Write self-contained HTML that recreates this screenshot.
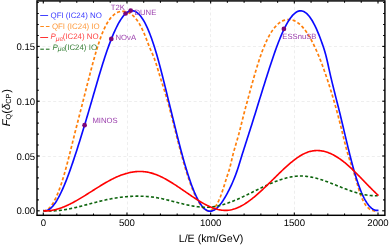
<!DOCTYPE html>
<html><head><meta charset="utf-8"><style>
html,body{margin:0;padding:0;background:#fff;}
body{width:389px;height:245px;position:relative;overflow:hidden;}
svg{position:absolute;left:0;top:0;}
text{font-family:"Liberation Sans",sans-serif;text-rendering:geometricPrecision;}
</style></head><body>
<svg width="389" height="245" viewBox="0 0 389 245">
<g stroke="#eeeeee" stroke-width="1" stroke-dasharray="3,2.4"><line x1="127.5" y1="215.3" x2="127.5" y2="0.9"/><line x1="210.5" y1="215.3" x2="210.5" y2="0.9"/><line x1="294.5" y1="215.3" x2="294.5" y2="0.9"/><line x1="37.0" y1="46.5" x2="384.9" y2="46.5"/><line x1="37.0" y1="101.5" x2="384.9" y2="101.5"/><line x1="37.0" y1="156.5" x2="384.9" y2="156.5"/></g>
<path d="M43.30,210.79 L44.14,210.79 L44.97,210.67 L45.81,210.42 L46.64,210.04 L47.48,209.53 L48.32,208.91 L49.15,208.15 L49.99,207.28 L50.82,206.28 L51.66,205.17 L52.49,203.93 L53.33,202.58 L54.17,201.10 L55.00,199.51 L55.84,197.80 L56.67,195.98 L57.51,194.04 L58.35,191.99 L59.18,189.83 L60.02,187.55 L60.85,185.17 L61.69,182.67 L62.52,180.06 L63.36,177.35 L64.20,174.53 L65.03,171.60 L65.87,168.59 L66.70,165.49 L67.54,162.31 L68.38,159.08 L69.21,155.80 L70.05,152.48 L70.88,149.12 L71.72,145.76 L72.55,142.38 L73.39,139.01 L74.23,135.66 L75.06,132.32 L75.90,129.01 L76.73,125.72 L77.57,122.45 L78.41,119.18 L79.24,115.93 L80.08,112.68 L80.91,109.43 L81.75,106.18 L82.58,102.93 L83.42,99.67 L84.26,96.40 L85.09,93.12 L85.93,89.82 L86.76,86.53 L87.60,83.25 L88.44,79.97 L89.27,76.72 L90.11,73.48 L90.94,70.29 L91.78,67.12 L92.61,64.01 L93.45,60.94 L94.29,57.93 L95.12,54.99 L95.96,52.11 L96.79,49.31 L97.63,46.60 L98.47,43.98 L99.30,41.45 L100.14,39.02 L100.97,36.70 L101.81,34.50 L102.64,32.42 L103.48,30.46 L104.32,28.61 L105.15,26.87 L105.99,25.24 L106.82,23.71 L107.66,22.29 L108.50,20.97 L109.33,19.75 L110.17,18.62 L111.00,17.59 L111.84,16.65 L112.67,15.79 L113.51,15.02 L114.35,14.33 L115.18,13.72 L116.02,13.18 L116.85,12.72 L117.69,12.33 L118.53,12.01 L119.36,11.75 L120.20,11.56 L121.03,11.42 L121.87,11.35 L122.70,11.33 L123.54,11.36 L124.38,11.44 L125.21,11.56 L126.05,11.74 L126.88,11.98 L127.72,12.27 L128.56,12.62 L129.39,13.03 L130.23,13.51 L131.06,14.06 L131.90,14.68 L132.73,15.36 L133.57,16.13 L134.41,16.97 L135.24,17.90 L136.08,18.91 L136.91,20.00 L137.75,21.19 L138.59,22.47 L139.42,23.84 L140.26,25.31 L141.09,26.87 L141.93,28.55 L142.76,30.32 L143.60,32.21 L144.44,34.20 L145.27,36.27 L146.11,38.40 L146.94,40.57 L147.78,42.73 L148.62,44.88 L149.45,46.97 L150.29,48.99 L151.12,50.92 L151.96,52.80 L152.79,54.71 L153.63,56.71 L154.47,58.88 L155.30,61.25 L156.14,63.79 L156.97,66.45 L157.81,69.19 L158.65,71.97 L159.48,74.74 L160.32,77.46 L161.15,80.13 L161.99,82.76 L162.83,85.39 L163.66,88.03 L164.50,90.70 L165.33,93.43 L166.17,96.22 L167.00,99.11 L167.84,102.08 L168.68,105.13 L169.51,108.25 L170.35,111.42 L171.18,114.64 L172.02,117.90 L172.86,121.19 L173.69,124.49 L174.53,127.81 L175.36,131.13 L176.20,134.43 L177.03,137.72 L177.87,140.99 L178.71,144.22 L179.54,147.42 L180.38,150.58 L181.21,153.69 L182.05,156.76 L182.89,159.77 L183.72,162.73 L184.56,165.62 L185.39,168.44 L186.23,171.19 L187.06,173.86 L187.90,176.45 L188.74,178.96 L189.57,181.38 L190.41,183.71 L191.24,185.96 L192.08,188.12 L192.92,190.18 L193.75,192.16 L194.59,194.05 L195.42,195.85 L196.26,197.55 L197.09,199.16 L197.93,200.68 L198.77,202.10 L199.60,203.43 L200.44,204.65 L201.27,205.78 L202.11,206.80 L202.95,207.72 L203.78,208.52 L204.62,209.21 L205.45,209.79 L206.29,210.24 L207.12,210.57 L207.96,210.78 L208.80,210.85 L209.63,210.79 L210.47,210.60 L211.30,210.27 L212.14,209.79 L212.98,209.17 L213.81,208.41 L214.65,207.49 L215.48,206.41 L216.32,205.18 L217.15,203.79 L217.99,202.23 L218.83,200.51 L219.66,198.61 L220.50,196.55 L221.33,194.30 L222.17,191.88 L223.01,189.32 L223.84,186.67 L224.68,183.97 L225.51,181.28 L226.35,178.64 L227.18,176.10 L228.02,173.66 L228.86,171.12 L229.69,168.27 L230.53,164.97 L231.36,161.40 L232.20,157.80 L233.04,154.41 L233.87,151.26 L234.71,148.29 L235.54,145.43 L236.38,142.62 L237.21,139.80 L238.05,136.91 L238.89,133.87 L239.72,130.69 L240.56,127.39 L241.39,124.03 L242.23,120.65 L243.07,117.28 L243.90,113.98 L244.74,110.76 L245.57,107.60 L246.41,104.50 L247.24,101.43 L248.08,98.38 L248.92,95.34 L249.75,92.29 L250.59,89.26 L251.42,86.23 L252.26,83.23 L253.10,80.25 L253.93,77.31 L254.77,74.40 L255.60,71.54 L256.44,68.73 L257.27,65.98 L258.11,63.30 L258.95,60.69 L259.78,58.15 L260.62,55.70 L261.45,53.34 L262.29,51.07 L263.13,48.90 L263.96,46.81 L264.80,44.82 L265.63,42.91 L266.47,41.08 L267.31,39.35 L268.14,37.69 L268.98,36.12 L269.81,34.63 L270.65,33.22 L271.48,31.88 L272.32,30.63 L273.16,29.44 L273.99,28.34 L274.83,27.30 L275.66,26.34 L276.50,25.44 L277.34,24.62 L278.17,23.86 L279.01,23.17 L279.84,22.54 L280.68,21.97 L281.51,21.47 L282.35,21.03 L283.19,20.64 L284.02,20.32 L284.86,20.05 L285.69,19.83 L286.53,19.67 L287.37,19.56 L288.20,19.51 L289.04,19.51 L289.87,19.56 L290.71,19.66 L291.54,19.82 L292.38,20.03 L293.22,20.30 L294.05,20.62 L294.89,21.00 L295.72,21.43 L296.56,21.92 L297.40,22.46 L298.23,23.06 L299.07,23.72 L299.90,24.43 L300.74,25.20 L301.57,26.03 L302.41,26.92 L303.25,27.86 L304.08,28.87 L304.92,29.93 L305.75,31.05 L306.59,32.23 L307.43,33.47 L308.26,34.77 L309.10,36.13 L309.93,37.55 L310.77,39.03 L311.60,40.57 L312.44,42.16 L313.28,43.81 L314.11,45.52 L314.95,47.29 L315.78,49.11 L316.62,50.98 L317.46,52.91 L318.29,54.89 L319.13,56.92 L319.96,59.00 L320.80,61.14 L321.63,63.32 L322.47,65.56 L323.31,67.84 L324.14,70.17 L324.98,72.55 L325.81,74.98 L326.65,77.45 L327.49,79.97 L328.32,82.53 L329.16,85.13 L329.99,87.78 L330.83,90.47 L331.66,93.20 L332.50,95.98 L333.34,98.81 L334.17,101.68 L335.01,104.60 L335.84,107.57 L336.68,110.60 L337.52,113.68 L338.35,116.82 L339.19,120.01 L340.02,123.27 L340.86,126.59 L341.69,129.97 L342.53,133.41 L343.37,136.86 L344.20,140.29 L345.04,143.65 L345.87,146.91 L346.71,150.03 L347.55,152.97 L348.38,155.78 L349.22,158.46 L350.05,161.05 L350.89,163.59 L351.72,166.10 L352.56,168.60 L353.40,171.13 L354.23,173.72 L355.07,176.39 L355.90,179.18 L356.74,182.10 L357.58,185.11 L358.41,188.06 L359.25,190.83 L360.08,193.36 L360.92,195.67 L361.75,197.77 L362.59,199.67 L363.43,201.38 L364.26,202.90 L365.10,204.25 L365.93,205.45 L366.77,206.50 L367.61,207.40 L368.44,208.18 L369.28,208.84 L370.11,209.40 L370.95,209.85 L371.78,210.22 L372.62,210.52 L373.46,210.75 L374.29,210.92 L375.13,211.06 L375.96,211.15 L376.80,211.23" fill="none" stroke="#ff7f0a" stroke-width="1.7" stroke-dasharray="3.2,2.2"/>
<path d="M43.30,210.44 L44.14,210.63 L44.98,210.70 L45.82,210.66 L46.66,210.50 L47.50,210.23 L48.34,209.85 L49.18,209.37 L50.02,208.78 L50.86,208.08 L51.70,207.29 L52.54,206.40 L53.38,205.42 L54.22,204.35 L55.06,203.18 L55.90,201.93 L56.74,200.60 L57.58,199.18 L58.42,197.69 L59.26,196.11 L60.10,194.47 L60.94,192.75 L61.78,190.97 L62.62,189.11 L63.46,187.20 L64.30,185.22 L65.14,183.18 L65.98,181.09 L66.82,178.94 L67.66,176.74 L68.50,174.49 L69.34,172.20 L70.18,169.86 L71.02,167.48 L71.86,165.07 L72.70,162.61 L73.54,160.12 L74.38,157.61 L75.22,155.06 L76.06,152.48 L76.90,149.88 L77.74,147.26 L78.58,144.61 L79.42,141.94 L80.26,139.25 L81.10,136.53 L81.94,133.80 L82.78,131.05 L83.62,128.28 L84.46,125.49 L85.31,122.69 L86.15,119.88 L86.99,117.05 L87.83,114.21 L88.67,111.36 L89.51,108.50 L90.35,105.62 L91.19,102.75 L92.03,99.86 L92.87,96.97 L93.71,94.08 L94.55,91.18 L95.39,88.29 L96.23,85.40 L97.07,82.53 L97.91,79.66 L98.75,76.82 L99.59,74.00 L100.43,71.21 L101.27,68.45 L102.11,65.72 L102.95,63.04 L103.79,60.39 L104.63,57.79 L105.47,55.25 L106.31,52.75 L107.15,50.31 L107.99,47.93 L108.83,45.61 L109.67,43.34 L110.51,41.14 L111.35,38.99 L112.19,36.91 L113.03,34.90 L113.87,32.95 L114.71,31.06 L115.55,29.24 L116.39,27.50 L117.23,25.82 L118.07,24.21 L118.91,22.69 L119.75,21.24 L120.59,19.87 L121.43,18.59 L122.27,17.40 L123.11,16.30 L123.95,15.29 L124.79,14.37 L125.63,13.56 L126.47,12.85 L127.31,12.24 L128.15,11.73 L128.99,11.33 L129.83,11.02 L130.67,10.82 L131.51,10.72 L132.35,10.72 L133.19,10.83 L134.03,11.03 L134.87,11.34 L135.71,11.75 L136.55,12.26 L137.39,12.87 L138.23,13.58 L139.07,14.39 L139.91,15.31 L140.75,16.33 L141.59,17.45 L142.43,18.67 L143.27,19.99 L144.11,21.41 L144.95,22.94 L145.79,24.56 L146.63,26.29 L147.47,28.12 L148.31,30.05 L149.15,32.08 L149.99,34.20 L150.83,36.43 L151.67,38.75 L152.51,41.16 L153.35,43.67 L154.19,46.26 L155.03,48.94 L155.87,51.71 L156.71,54.57 L157.55,57.50 L158.39,60.52 L159.23,63.61 L160.07,66.76 L160.91,69.97 L161.75,73.23 L162.59,76.54 L163.43,79.88 L164.27,83.26 L165.11,86.65 L165.95,90.07 L166.79,93.49 L167.63,96.91 L168.47,100.33 L169.32,103.74 L170.16,107.15 L171.00,110.56 L171.84,113.97 L172.68,117.39 L173.52,120.80 L174.36,124.21 L175.20,127.61 L176.04,130.99 L176.88,134.35 L177.72,137.69 L178.56,141.00 L179.40,144.27 L180.24,147.50 L181.08,150.68 L181.92,153.81 L182.76,156.89 L183.60,159.91 L184.44,162.86 L185.28,165.75 L186.12,168.57 L186.96,171.32 L187.80,174.00 L188.64,176.60 L189.48,179.12 L190.32,181.57 L191.16,183.93 L192.00,186.21 L192.84,188.40 L193.68,190.50 L194.52,192.51 L195.36,194.43 L196.20,196.25 L197.04,197.98 L197.88,199.61 L198.72,201.14 L199.56,202.56 L200.40,203.89 L201.24,205.11 L202.08,206.22 L202.92,207.22 L203.76,208.11 L204.60,208.89 L205.44,209.55 L206.28,210.10 L207.12,210.53 L207.96,210.85 L208.80,211.07 L209.64,211.17 L210.48,211.18 L211.32,211.08 L212.16,210.88 L213.00,210.59 L213.84,210.20 L214.68,209.73 L215.52,209.16 L216.36,208.51 L217.20,207.77 L218.04,206.95 L218.88,206.05 L219.72,205.08 L220.56,204.03 L221.40,202.92 L222.24,201.73 L223.08,200.48 L223.92,199.16 L224.76,197.79 L225.60,196.35 L226.44,194.86 L227.28,193.31 L228.12,191.72 L228.96,190.07 L229.80,188.38 L230.64,186.64 L231.48,184.84 L232.32,182.98 L233.16,181.03 L234.00,179.01 L234.84,176.90 L235.68,174.69 L236.52,172.38 L237.36,169.95 L238.20,167.40 L239.04,164.75 L239.88,162.04 L240.72,159.29 L241.56,156.56 L242.40,153.85 L243.24,151.18 L244.08,148.54 L244.92,145.91 L245.76,143.30 L246.60,140.70 L247.44,138.09 L248.28,135.48 L249.12,132.85 L249.96,130.21 L250.80,127.56 L251.64,124.89 L252.48,122.22 L253.33,119.53 L254.17,116.84 L255.01,114.14 L255.85,111.43 L256.69,108.73 L257.53,106.01 L258.37,103.30 L259.21,100.59 L260.05,97.88 L260.89,95.17 L261.73,92.47 L262.57,89.77 L263.41,87.08 L264.25,84.40 L265.09,81.72 L265.93,79.06 L266.77,76.41 L267.61,73.77 L268.45,71.15 L269.29,68.55 L270.13,65.97 L270.97,63.42 L271.81,60.89 L272.65,58.40 L273.49,55.94 L274.33,53.51 L275.17,51.13 L276.01,48.79 L276.85,46.50 L277.69,44.26 L278.53,42.07 L279.37,39.94 L280.21,37.87 L281.05,35.86 L281.89,33.91 L282.73,32.03 L283.57,30.21 L284.41,28.46 L285.25,26.78 L286.09,25.17 L286.93,23.64 L287.77,22.18 L288.61,20.81 L289.45,19.51 L290.29,18.29 L291.13,17.16 L291.97,16.12 L292.81,15.16 L293.65,14.29 L294.49,13.51 L295.33,12.83 L296.17,12.24 L297.01,11.75 L297.85,11.36 L298.69,11.07 L299.53,10.89 L300.37,10.81 L301.21,10.83 L302.05,10.97 L302.89,11.21 L303.73,11.55 L304.57,12.00 L305.41,12.55 L306.25,13.20 L307.09,13.95 L307.93,14.81 L308.77,15.76 L309.61,16.81 L310.45,17.96 L311.29,19.21 L312.13,20.55 L312.97,21.99 L313.81,23.53 L314.65,25.16 L315.49,26.88 L316.33,28.69 L317.17,30.59 L318.01,32.58 L318.85,34.65 L319.69,36.79 L320.53,39.00 L321.37,41.28 L322.21,43.61 L323.05,46.01 L323.89,48.52 L324.73,51.22 L325.57,54.16 L326.41,57.42 L327.25,61.00 L328.09,64.79 L328.93,68.63 L329.77,72.40 L330.61,76.06 L331.45,79.63 L332.29,83.12 L333.13,86.54 L333.97,89.92 L334.81,93.26 L335.65,96.58 L336.49,99.88 L337.34,103.20 L338.18,106.53 L339.02,109.90 L339.86,113.31 L340.70,116.77 L341.54,120.25 L342.38,123.77 L343.22,127.30 L344.06,130.83 L344.90,134.37 L345.74,137.90 L346.58,141.41 L347.42,144.90 L348.26,148.36 L349.10,151.77 L349.94,155.13 L350.78,158.44 L351.62,161.68 L352.46,164.84 L353.30,167.93 L354.14,170.92 L354.98,173.81 L355.82,176.59 L356.66,179.27 L357.50,181.84 L358.34,184.30 L359.18,186.65 L360.02,188.88 L360.86,191.00 L361.70,193.00 L362.54,194.88 L363.38,196.65 L364.22,198.31 L365.06,199.86 L365.90,201.29 L366.74,202.62 L367.58,203.84 L368.42,204.95 L369.26,205.95 L370.10,206.85 L370.94,207.65 L371.78,208.34 L372.62,208.94 L373.46,209.43 L374.30,209.82 L375.14,210.12 L375.98,210.32 L376.82,210.42 L377.66,210.43 L378.50,210.35" fill="none" stroke="#0a0aff" stroke-width="1.65"/>
<path d="M43.30,210.60 L44.14,210.68 L44.98,210.75 L45.81,210.81 L46.65,210.85 L47.49,210.89 L48.33,210.92 L49.16,210.93 L50.00,210.94 L50.84,210.94 L51.68,210.93 L52.52,210.91 L53.35,210.88 L54.19,210.84 L55.03,210.79 L55.87,210.74 L56.71,210.67 L57.54,210.60 L58.38,210.52 L59.22,210.44 L60.06,210.34 L60.89,210.24 L61.73,210.14 L62.57,210.02 L63.41,209.90 L64.25,209.77 L65.08,209.64 L65.92,209.50 L66.76,209.35 L67.60,209.20 L68.44,209.04 L69.27,208.88 L70.11,208.71 L70.95,208.54 L71.79,208.36 L72.62,208.18 L73.46,208.00 L74.30,207.81 L75.14,207.61 L75.98,207.42 L76.81,207.22 L77.65,207.01 L78.49,206.81 L79.33,206.60 L80.17,206.39 L81.00,206.17 L81.84,205.96 L82.68,205.74 L83.52,205.52 L84.35,205.30 L85.19,205.08 L86.03,204.86 L86.87,204.64 L87.71,204.41 L88.54,204.19 L89.38,203.96 L90.22,203.74 L91.06,203.52 L91.89,203.29 L92.73,203.07 L93.57,202.85 L94.41,202.63 L95.25,202.41 L96.08,202.20 L96.92,201.98 L97.76,201.77 L98.60,201.56 L99.44,201.35 L100.27,201.14 L101.11,200.94 L101.95,200.74 L102.79,200.55 L103.62,200.36 L104.46,200.17 L105.30,199.98 L106.14,199.80 L106.98,199.62 L107.81,199.45 L108.65,199.28 L109.49,199.11 L110.33,198.95 L111.17,198.79 L112.00,198.64 L112.84,198.49 L113.68,198.34 L114.52,198.20 L115.35,198.07 L116.19,197.93 L117.03,197.80 L117.87,197.68 L118.71,197.56 L119.54,197.44 L120.38,197.33 L121.22,197.23 L122.06,197.13 L122.90,197.03 L123.73,196.94 L124.57,196.85 L125.41,196.77 L126.25,196.69 L127.08,196.62 L127.92,196.55 L128.76,196.49 L129.60,196.43 L130.44,196.38 L131.27,196.33 L132.11,196.29 L132.95,196.26 L133.79,196.23 L134.63,196.20 L135.46,196.18 L136.30,196.17 L137.14,196.16 L137.98,196.16 L138.81,196.16 L139.65,196.17 L140.49,196.18 L141.33,196.20 L142.17,196.23 L143.00,196.26 L143.84,196.30 L144.68,196.35 L145.52,196.40 L146.35,196.45 L147.19,196.52 L148.03,196.59 L148.87,196.66 L149.71,196.74 L150.54,196.83 L151.38,196.93 L152.22,197.03 L153.06,197.14 L153.90,197.25 L154.73,197.38 L155.57,197.50 L156.41,197.64 L157.25,197.78 L158.08,197.93 L158.92,198.09 L159.76,198.25 L160.60,198.42 L161.44,198.59 L162.27,198.77 L163.11,198.95 L163.95,199.14 L164.79,199.33 L165.63,199.53 L166.46,199.73 L167.30,199.93 L168.14,200.14 L168.98,200.35 L169.81,200.56 L170.65,200.77 L171.49,200.99 L172.33,201.20 L173.17,201.42 L174.00,201.64 L174.84,201.86 L175.68,202.07 L176.52,202.29 L177.36,202.51 L178.19,202.73 L179.03,202.94 L179.87,203.16 L180.71,203.37 L181.54,203.58 L182.38,203.78 L183.22,203.99 L184.06,204.19 L184.90,204.39 L185.73,204.58 L186.57,204.77 L187.41,204.96 L188.25,205.14 L189.08,205.31 L189.92,205.48 L190.76,205.65 L191.60,205.81 L192.44,205.96 L193.27,206.10 L194.11,206.24 L194.95,206.37 L195.79,206.49 L196.63,206.61 L197.46,206.72 L198.30,206.81 L199.14,206.90 L199.98,206.98 L200.81,207.05 L201.65,207.11 L202.49,207.16 L203.33,207.20 L204.17,207.23 L205.00,207.24 L205.84,207.25 L206.68,207.24 L207.52,207.22 L208.36,207.19 L209.19,207.15 L210.03,207.09 L210.87,207.02 L211.71,206.93 L212.54,206.84 L213.38,206.73 L214.22,206.60 L215.06,206.47 L215.90,206.32 L216.73,206.16 L217.57,205.99 L218.41,205.81 L219.25,205.62 L220.09,205.42 L220.92,205.21 L221.76,204.98 L222.60,204.75 L223.44,204.51 L224.27,204.26 L225.11,203.99 L225.95,203.72 L226.79,203.45 L227.63,203.16 L228.46,202.86 L229.30,202.56 L230.14,202.25 L230.98,201.94 L231.82,201.61 L232.65,201.28 L233.49,200.94 L234.33,200.60 L235.17,200.25 L236.00,199.89 L236.84,199.53 L237.68,199.17 L238.52,198.80 L239.36,198.42 L240.19,198.04 L241.03,197.66 L241.87,197.27 L242.71,196.88 L243.54,196.48 L244.38,196.08 L245.22,195.68 L246.06,195.28 L246.90,194.87 L247.73,194.47 L248.57,194.06 L249.41,193.65 L250.25,193.23 L251.09,192.82 L251.92,192.41 L252.76,191.99 L253.60,191.58 L254.44,191.16 L255.27,190.75 L256.11,190.33 L256.95,189.92 L257.79,189.51 L258.63,189.10 L259.46,188.69 L260.30,188.28 L261.14,187.88 L261.98,187.47 L262.82,187.07 L263.65,186.68 L264.49,186.28 L265.33,185.89 L266.17,185.50 L267.00,185.12 L267.84,184.74 L268.68,184.37 L269.52,184.00 L270.36,183.63 L271.19,183.27 L272.03,182.92 L272.87,182.57 L273.71,182.23 L274.55,181.89 L275.38,181.56 L276.22,181.24 L277.06,180.93 L277.90,180.62 L278.73,180.32 L279.57,180.03 L280.41,179.74 L281.25,179.46 L282.09,179.20 L282.92,178.94 L283.76,178.69 L284.60,178.45 L285.44,178.22 L286.27,178.00 L287.11,177.79 L287.95,177.59 L288.79,177.40 L289.63,177.22 L290.46,177.05 L291.30,176.90 L292.14,176.75 L292.98,176.62 L293.82,176.50 L294.65,176.40 L295.49,176.30 L296.33,176.22 L297.17,176.15 L298.00,176.10 L298.84,176.06 L299.68,176.03 L300.52,176.02 L301.36,176.02 L302.19,176.04 L303.03,176.07 L303.87,176.12 L304.71,176.18 L305.55,176.26 L306.38,176.34 L307.22,176.44 L308.06,176.56 L308.90,176.68 L309.73,176.82 L310.57,176.97 L311.41,177.13 L312.25,177.30 L313.09,177.48 L313.92,177.67 L314.76,177.87 L315.60,178.08 L316.44,178.30 L317.28,178.53 L318.11,178.76 L318.95,179.01 L319.79,179.26 L320.63,179.52 L321.46,179.79 L322.30,180.06 L323.14,180.34 L323.98,180.63 L324.82,180.92 L325.65,181.22 L326.49,181.52 L327.33,181.82 L328.17,182.13 L329.01,182.45 L329.84,182.77 L330.68,183.09 L331.52,183.41 L332.36,183.74 L333.19,184.07 L334.03,184.40 L334.87,184.73 L335.71,185.07 L336.55,185.40 L337.38,185.74 L338.22,186.07 L339.06,186.41 L339.90,186.74 L340.73,187.07 L341.57,187.40 L342.41,187.73 L343.25,188.06 L344.09,188.39 L344.92,188.71 L345.76,189.03 L346.60,189.35 L347.44,189.66 L348.28,189.97 L349.11,190.28 L349.95,190.58 L350.79,190.87 L351.63,191.16 L352.46,191.45 L353.30,191.73 L354.14,192.00 L354.98,192.26 L355.82,192.52 L356.65,192.77 L357.49,193.01 L358.33,193.25 L359.17,193.47 L360.01,193.69 L360.84,193.90 L361.68,194.09 L362.52,194.28 L363.36,194.46 L364.19,194.63 L365.03,194.78 L365.87,194.93 L366.71,195.06 L367.55,195.18 L368.38,195.29 L369.22,195.39 L370.06,195.47 L370.90,195.54 L371.74,195.60 L372.57,195.64 L373.41,195.67 L374.25,195.68 L375.09,195.68 L375.92,195.66 L376.76,195.62 L377.60,195.58" fill="none" stroke="#0d640d" stroke-width="1.6" stroke-dasharray="3,2.2"/>
<path d="M43.30,210.81 L44.14,210.85 L44.98,210.87 L45.82,210.88 L46.66,210.86 L47.50,210.83 L48.34,210.77 L49.18,210.70 L50.02,210.61 L50.86,210.50 L51.70,210.38 L52.54,210.23 L53.38,210.07 L54.22,209.90 L55.06,209.71 L55.90,209.50 L56.74,209.28 L57.58,209.05 L58.42,208.80 L59.26,208.53 L60.10,208.25 L60.94,207.96 L61.78,207.66 L62.62,207.34 L63.46,207.01 L64.30,206.67 L65.14,206.32 L65.98,205.96 L66.82,205.58 L67.66,205.20 L68.50,204.80 L69.34,204.40 L70.18,203.98 L71.02,203.56 L71.86,203.13 L72.70,202.69 L73.54,202.24 L74.38,201.78 L75.22,201.32 L76.06,200.85 L76.90,200.37 L77.74,199.89 L78.58,199.40 L79.42,198.90 L80.26,198.40 L81.10,197.90 L81.94,197.39 L82.78,196.88 L83.62,196.36 L84.46,195.84 L85.31,195.32 L86.15,194.79 L86.99,194.27 L87.83,193.74 L88.67,193.20 L89.51,192.67 L90.35,192.14 L91.19,191.60 L92.03,191.07 L92.87,190.54 L93.71,190.00 L94.55,189.47 L95.39,188.94 L96.23,188.41 L97.07,187.88 L97.91,187.35 L98.75,186.83 L99.59,186.31 L100.43,185.80 L101.27,185.28 L102.11,184.77 L102.95,184.27 L103.79,183.77 L104.63,183.28 L105.47,182.79 L106.31,182.31 L107.15,181.83 L107.99,181.36 L108.83,180.90 L109.67,180.44 L110.51,179.99 L111.35,179.55 L112.19,179.12 L113.03,178.70 L113.87,178.29 L114.71,177.88 L115.55,177.49 L116.39,177.10 L117.23,176.73 L118.07,176.37 L118.91,176.01 L119.75,175.67 L120.59,175.35 L121.43,175.03 L122.27,174.73 L123.11,174.43 L123.95,174.15 L124.79,173.89 L125.63,173.64 L126.47,173.40 L127.31,173.17 L128.15,172.96 L128.99,172.76 L129.83,172.57 L130.67,172.40 L131.51,172.24 L132.35,172.10 L133.19,171.97 L134.03,171.85 L134.87,171.75 L135.71,171.67 L136.55,171.60 L137.39,171.55 L138.23,171.51 L139.07,171.48 L139.91,171.48 L140.75,171.48 L141.59,171.51 L142.43,171.55 L143.27,171.61 L144.11,171.68 L144.95,171.77 L145.79,171.88 L146.63,172.00 L147.47,172.14 L148.31,172.30 L149.15,172.48 L149.99,172.67 L150.83,172.88 L151.67,173.11 L152.51,173.36 L153.35,173.62 L154.19,173.90 L155.03,174.19 L155.87,174.50 L156.71,174.83 L157.55,175.17 L158.39,175.52 L159.23,175.89 L160.07,176.27 L160.91,176.66 L161.75,177.06 L162.59,177.48 L163.43,177.91 L164.27,178.35 L165.11,178.80 L165.95,179.26 L166.79,179.73 L167.63,180.21 L168.47,180.70 L169.32,181.20 L170.16,181.70 L171.00,182.22 L171.84,182.74 L172.68,183.26 L173.52,183.80 L174.36,184.34 L175.20,184.88 L176.04,185.43 L176.88,185.99 L177.72,186.55 L178.56,187.11 L179.40,187.68 L180.24,188.25 L181.08,188.82 L181.92,189.39 L182.76,189.97 L183.60,190.55 L184.44,191.13 L185.28,191.71 L186.12,192.29 L186.96,192.87 L187.80,193.44 L188.64,194.02 L189.48,194.60 L190.32,195.17 L191.16,195.74 L192.00,196.31 L192.84,196.87 L193.68,197.43 L194.52,197.99 L195.36,198.54 L196.20,199.08 L197.04,199.62 L197.88,200.15 L198.72,200.68 L199.56,201.19 L200.40,201.70 L201.24,202.20 L202.08,202.69 L202.92,203.17 L203.76,203.64 L204.60,204.10 L205.44,204.55 L206.28,204.98 L207.12,205.40 L207.96,205.81 L208.80,206.21 L209.64,206.59 L210.48,206.95 L211.32,207.30 L212.16,207.64 L213.00,207.96 L213.84,208.26 L214.68,208.54 L215.52,208.81 L216.36,209.06 L217.20,209.29 L218.04,209.50 L218.88,209.69 L219.72,209.85 L220.56,210.00 L221.40,210.13 L222.24,210.23 L223.08,210.31 L223.92,210.37 L224.76,210.40 L225.60,210.41 L226.44,210.40 L227.28,210.36 L228.12,210.29 L228.96,210.20 L229.80,210.08 L230.64,209.93 L231.48,209.76 L232.32,209.56 L233.16,209.33 L234.00,209.08 L234.84,208.81 L235.68,208.51 L236.52,208.19 L237.36,207.85 L238.20,207.48 L239.04,207.10 L239.88,206.69 L240.72,206.26 L241.56,205.81 L242.40,205.34 L243.24,204.85 L244.08,204.35 L244.92,203.82 L245.76,203.28 L246.60,202.72 L247.44,202.14 L248.28,201.55 L249.12,200.94 L249.96,200.32 L250.80,199.69 L251.64,199.04 L252.48,198.37 L253.33,197.70 L254.17,197.01 L255.01,196.31 L255.85,195.59 L256.69,194.87 L257.53,194.14 L258.37,193.40 L259.21,192.64 L260.05,191.88 L260.89,191.12 L261.73,190.34 L262.57,189.56 L263.41,188.77 L264.25,187.97 L265.09,187.17 L265.93,186.36 L266.77,185.55 L267.61,184.74 L268.45,183.92 L269.29,183.10 L270.13,182.27 L270.97,181.45 L271.81,180.62 L272.65,179.79 L273.49,178.96 L274.33,178.13 L275.17,177.31 L276.01,176.48 L276.85,175.65 L277.69,174.83 L278.53,174.01 L279.37,173.20 L280.21,172.38 L281.05,171.58 L281.89,170.77 L282.73,169.98 L283.57,169.18 L284.41,168.40 L285.25,167.62 L286.09,166.86 L286.93,166.10 L287.77,165.35 L288.61,164.61 L289.45,163.88 L290.29,163.17 L291.13,162.47 L291.97,161.78 L292.81,161.10 L293.65,160.44 L294.49,159.79 L295.33,159.16 L296.17,158.55 L297.01,157.96 L297.85,157.38 L298.69,156.82 L299.53,156.28 L300.37,155.76 L301.21,155.26 L302.05,154.79 L302.89,154.33 L303.73,153.90 L304.57,153.49 L305.41,153.11 L306.25,152.75 L307.09,152.42 L307.93,152.11 L308.77,151.83 L309.61,151.58 L310.45,151.36 L311.29,151.16 L312.13,150.99 L312.97,150.85 L313.81,150.73 L314.65,150.64 L315.49,150.58 L316.33,150.54 L317.17,150.53 L318.01,150.54 L318.85,150.58 L319.69,150.65 L320.53,150.74 L321.37,150.85 L322.21,150.98 L323.05,151.14 L323.89,151.33 L324.73,151.54 L325.57,151.76 L326.41,152.02 L327.25,152.29 L328.09,152.59 L328.93,152.91 L329.77,153.25 L330.61,153.61 L331.45,153.99 L332.29,154.39 L333.13,154.82 L333.97,155.26 L334.81,155.72 L335.65,156.21 L336.49,156.71 L337.34,157.23 L338.18,157.77 L339.02,158.33 L339.86,158.91 L340.70,159.50 L341.54,160.11 L342.38,160.74 L343.22,161.39 L344.06,162.06 L344.90,162.74 L345.74,163.43 L346.58,164.15 L347.42,164.87 L348.26,165.61 L349.10,166.37 L349.94,167.13 L350.78,167.91 L351.62,168.70 L352.46,169.50 L353.30,170.30 L354.14,171.12 L354.98,171.95 L355.82,172.78 L356.66,173.62 L357.50,174.47 L358.34,175.32 L359.18,176.17 L360.02,177.04 L360.86,177.90 L361.70,178.77 L362.54,179.63 L363.38,180.50 L364.22,181.37 L365.06,182.25 L365.90,183.11 L366.74,183.98 L367.58,184.85 L368.42,185.71 L369.26,186.57 L370.10,187.43 L370.94,188.28 L371.78,189.12 L372.62,189.96 L373.46,190.79 L374.30,191.61 L375.14,192.43 L375.98,193.23 L376.82,194.03 L377.66,194.81 L378.50,195.59" fill="none" stroke="#ff0000" stroke-width="1.6"/>
<circle cx="84.6" cy="125.2" r="2.35" fill="#7a067a"/>
<circle cx="111.3" cy="38.9" r="2.35" fill="#7a067a"/>
<circle cx="125.6" cy="13.5" r="2.35" fill="#7a067a"/>
<circle cx="130.7" cy="10.6" r="2.35" fill="#7a067a"/>
<circle cx="283.9" cy="28.9" r="2.35" fill="#7a067a"/>
<g stroke="#000" stroke-width="1.1"><line x1="43.30" y1="215.3" x2="43.30" y2="212.60000000000002"/><line x1="43.30" y1="0.9" x2="43.30" y2="3.6"/><line x1="60.03" y1="215.3" x2="60.03" y2="213.5"/><line x1="60.03" y1="0.9" x2="60.03" y2="2.7"/><line x1="76.77" y1="215.3" x2="76.77" y2="213.5"/><line x1="76.77" y1="0.9" x2="76.77" y2="2.7"/><line x1="93.50" y1="215.3" x2="93.50" y2="213.5"/><line x1="93.50" y1="0.9" x2="93.50" y2="2.7"/><line x1="110.24" y1="215.3" x2="110.24" y2="213.5"/><line x1="110.24" y1="0.9" x2="110.24" y2="2.7"/><line x1="126.97" y1="215.3" x2="126.97" y2="212.60000000000002"/><line x1="126.97" y1="0.9" x2="126.97" y2="3.6"/><line x1="143.71" y1="215.3" x2="143.71" y2="213.5"/><line x1="143.71" y1="0.9" x2="143.71" y2="2.7"/><line x1="160.44" y1="215.3" x2="160.44" y2="213.5"/><line x1="160.44" y1="0.9" x2="160.44" y2="2.7"/><line x1="177.18" y1="215.3" x2="177.18" y2="213.5"/><line x1="177.18" y1="0.9" x2="177.18" y2="2.7"/><line x1="193.92" y1="215.3" x2="193.92" y2="213.5"/><line x1="193.92" y1="0.9" x2="193.92" y2="2.7"/><line x1="210.65" y1="215.3" x2="210.65" y2="212.60000000000002"/><line x1="210.65" y1="0.9" x2="210.65" y2="3.6"/><line x1="227.38" y1="215.3" x2="227.38" y2="213.5"/><line x1="227.38" y1="0.9" x2="227.38" y2="2.7"/><line x1="244.12" y1="215.3" x2="244.12" y2="213.5"/><line x1="244.12" y1="0.9" x2="244.12" y2="2.7"/><line x1="260.86" y1="215.3" x2="260.86" y2="213.5"/><line x1="260.86" y1="0.9" x2="260.86" y2="2.7"/><line x1="277.59" y1="215.3" x2="277.59" y2="213.5"/><line x1="277.59" y1="0.9" x2="277.59" y2="2.7"/><line x1="294.32" y1="215.3" x2="294.32" y2="212.60000000000002"/><line x1="294.32" y1="0.9" x2="294.32" y2="3.6"/><line x1="311.06" y1="215.3" x2="311.06" y2="213.5"/><line x1="311.06" y1="0.9" x2="311.06" y2="2.7"/><line x1="327.80" y1="215.3" x2="327.80" y2="213.5"/><line x1="327.80" y1="0.9" x2="327.80" y2="2.7"/><line x1="344.53" y1="215.3" x2="344.53" y2="213.5"/><line x1="344.53" y1="0.9" x2="344.53" y2="2.7"/><line x1="361.26" y1="215.3" x2="361.26" y2="213.5"/><line x1="361.26" y1="0.9" x2="361.26" y2="2.7"/><line x1="378.00" y1="215.3" x2="378.00" y2="212.60000000000002"/><line x1="378.00" y1="0.9" x2="378.00" y2="3.6"/><line x1="37.0" y1="210.80" x2="39.7" y2="210.80"/><line x1="384.9" y1="210.80" x2="382.2" y2="210.80"/><line x1="37.0" y1="199.84" x2="38.8" y2="199.84"/><line x1="384.9" y1="199.84" x2="383.09999999999997" y2="199.84"/><line x1="37.0" y1="188.88" x2="38.8" y2="188.88"/><line x1="384.9" y1="188.88" x2="383.09999999999997" y2="188.88"/><line x1="37.0" y1="177.92" x2="38.8" y2="177.92"/><line x1="384.9" y1="177.92" x2="383.09999999999997" y2="177.92"/><line x1="37.0" y1="166.96" x2="38.8" y2="166.96"/><line x1="384.9" y1="166.96" x2="383.09999999999997" y2="166.96"/><line x1="37.0" y1="156.00" x2="39.7" y2="156.00"/><line x1="384.9" y1="156.00" x2="382.2" y2="156.00"/><line x1="37.0" y1="145.04" x2="38.8" y2="145.04"/><line x1="384.9" y1="145.04" x2="383.09999999999997" y2="145.04"/><line x1="37.0" y1="134.08" x2="38.8" y2="134.08"/><line x1="384.9" y1="134.08" x2="383.09999999999997" y2="134.08"/><line x1="37.0" y1="123.12" x2="38.8" y2="123.12"/><line x1="384.9" y1="123.12" x2="383.09999999999997" y2="123.12"/><line x1="37.0" y1="112.16" x2="38.8" y2="112.16"/><line x1="384.9" y1="112.16" x2="383.09999999999997" y2="112.16"/><line x1="37.0" y1="101.20" x2="39.7" y2="101.20"/><line x1="384.9" y1="101.20" x2="382.2" y2="101.20"/><line x1="37.0" y1="90.24" x2="38.8" y2="90.24"/><line x1="384.9" y1="90.24" x2="383.09999999999997" y2="90.24"/><line x1="37.0" y1="79.28" x2="38.8" y2="79.28"/><line x1="384.9" y1="79.28" x2="383.09999999999997" y2="79.28"/><line x1="37.0" y1="68.32" x2="38.8" y2="68.32"/><line x1="384.9" y1="68.32" x2="383.09999999999997" y2="68.32"/><line x1="37.0" y1="57.36" x2="38.8" y2="57.36"/><line x1="384.9" y1="57.36" x2="383.09999999999997" y2="57.36"/><line x1="37.0" y1="46.40" x2="39.7" y2="46.40"/><line x1="384.9" y1="46.40" x2="382.2" y2="46.40"/><line x1="37.0" y1="35.44" x2="38.8" y2="35.44"/><line x1="384.9" y1="35.44" x2="383.09999999999997" y2="35.44"/><line x1="37.0" y1="24.48" x2="38.8" y2="24.48"/><line x1="384.9" y1="24.48" x2="383.09999999999997" y2="24.48"/><line x1="37.0" y1="13.52" x2="38.8" y2="13.52"/><line x1="384.9" y1="13.52" x2="383.09999999999997" y2="13.52"/><line x1="37.0" y1="2.56" x2="38.8" y2="2.56"/><line x1="384.9" y1="2.56" x2="383.09999999999997" y2="2.56"/></g>
<rect x="37.0" y="0.9" width="347.9" height="214.4" fill="none" stroke="#000" stroke-width="1.45"/>
<line x1="40.2" y1="15.5" x2="48.1" y2="15.5" stroke="#2c2cff" stroke-width="0.9"/><line x1="40.3" y1="26.5" x2="49.5" y2="26.5" stroke="#ff8a1a" stroke-width="1" stroke-dasharray="3.6,2"/><line x1="40.2" y1="37.5" x2="48.1" y2="37.5" stroke="#ff1c1c" stroke-width="0.9"/><line x1="40.3" y1="49.2" x2="49.5" y2="49.2" stroke="#0d640d" stroke-width="1" stroke-dasharray="3.6,2"/>
</svg>
<svg width="389" height="245" viewBox="0 0 389 245" style="will-change:transform">
<text x="50.5" y="17.8" font-size="7.9" fill="#3b3bff" text-anchor="start" >QFI (IC24) NO</text>
<text x="51.9" y="28.6" font-size="7.9" fill="#ff9a3c" text-anchor="start" >QFI (IC24) IO</text>
<text x="50.5" y="39.3" font-size="7.9" fill="#ff4646" text-anchor="start" ><tspan font-style="italic">P</tspan><tspan font-size="6.8" font-style="italic" dy="1.5">μe</tspan><tspan dy="-1.5" dx="-0.6">(IC24) NO</tspan></text>
<text x="52.4" y="49.9" font-size="7.9" fill="#3a823a" text-anchor="start" ><tspan font-style="italic">P</tspan><tspan font-size="6.8" font-style="italic" dy="1.5">μe</tspan><tspan dy="-1.5" dx="-0.6">(IC24) IO</tspan></text>
<text x="110.7" y="9.5" font-size="7.7" fill="#9a3dac" text-anchor="start" >T2K</text>
<text x="134.5" y="14.8" font-size="7.7" fill="#9a3dac" text-anchor="start" >DUNE</text>
<text x="115.5" y="40.3" font-size="7.7" fill="#9a3dac" text-anchor="start" >NOνA</text>
<text x="92.4" y="123.3" font-size="7.7" fill="#9a3dac" text-anchor="start" >MINOS</text>
<text x="282.3" y="38.7" font-size="7.7" fill="#9a3dac" text-anchor="start" >ESSnuSB</text>
<text x="35.1" y="49.9" font-size="9.6" fill="#000" text-anchor="end" >0.15</text>
<text x="35.1" y="104.7" font-size="9.6" fill="#000" text-anchor="end" >0.10</text>
<text x="35.1" y="159.5" font-size="9.6" fill="#000" text-anchor="end" >0.05</text>
<text x="35.1" y="214.2" font-size="9.6" fill="#000" text-anchor="end" >0.00</text>
<text x="43.30" y="226.2" font-size="9.6" fill="#000" text-anchor="middle" >0</text>
<text x="126.97" y="226.2" font-size="9.6" fill="#000" text-anchor="middle" >500</text>
<text x="210.65" y="226.2" font-size="9.6" fill="#000" text-anchor="middle" >1000</text>
<text x="294.32" y="226.2" font-size="9.6" fill="#000" text-anchor="middle" >1500</text>
<text x="378.00" y="226.2" font-size="9.6" fill="#000" text-anchor="middle" >2000</text>
<text x="178.7" y="241.7" font-size="10.7" fill="#000" text-anchor="start" >L/E (km/GeV)</text>
<text transform="translate(9.9 126.3) rotate(-90)" font-size="11.2" fill="#000"><tspan font-style="italic">F</tspan><tspan font-size="7.4" dy="1">Q</tspan><tspan dy="-1">(</tspan><tspan font-style="italic">δ</tspan><tspan font-size="7.4" dy="1">CP</tspan><tspan dy="-1" dx="0.8">)</tspan></text>
</svg>
</body></html>
